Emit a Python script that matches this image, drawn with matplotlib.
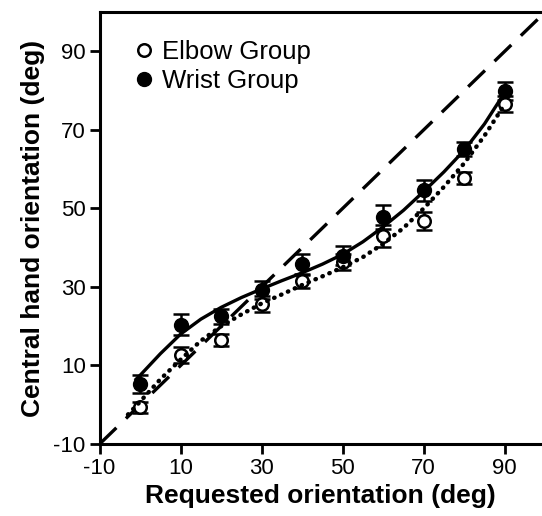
import numpy as np
import matplotlib.pyplot as plt
from matplotlib.lines import Line2D

plt.rcParams['font.family'] = ['Liberation Sans', 'DejaVu Sans']
plt.rcParams['axes.unicode_minus'] = False

# requested orientation (deg)
requested = [0, 10, 20, 30, 40, 50, 60, 70, 80, 90]

# group means and error bars (deg)
wrist_mean = [5.3, 20.4, 22.5, 29.2, 35.8, 38.0, 47.8, 54.6, 65.2, 79.9]
wrist_err = [2.2, 2.6, 2.0, 2.2, 2.6, 2.5, 3.0, 2.7, 1.8, 2.3]
elbow_mean = [-0.6, 12.7, 16.5, 25.6, 31.4, 36.3, 42.9, 46.8, 57.7, 76.5]
elbow_err = [1.4, 2.0, 1.5, 2.0, 1.7, 2.0, 2.8, 2.3, 1.5, 2.0]

# fitted curves
wrist_fit_x = [-1, 0, 5, 10, 15, 20, 25, 30, 35, 40, 45, 50, 55, 60, 65, 70, 75, 80, 85, 90]
wrist_fit_y = [6.5, 7.5, 13.0, 18.0, 21.8, 24.8, 27.3, 29.5, 31.6, 33.6, 35.8, 38.3,
               41.5, 45.3, 49.5, 54.3, 59.3, 64.8, 71.5, 79.5]
elbow_fit_x = [-3, 0, 5, 10, 15, 20, 25, 30, 35, 40, 45, 50, 55, 60, 65, 70, 75, 80, 85, 90]
elbow_fit_y = [-2.5, 0.8, 6.5, 11.5, 16.3, 20.0, 23.0, 25.8, 28.1, 30.5, 32.7, 35.0,
               37.6, 41.0, 45.0, 50.0, 55.5, 61.5, 68.5, 76.5]

identity = [-10, 100]

fig = plt.figure(figsize=(5.42, 5.16), dpi=100)
ax = fig.add_axes([0.1838, 0.1395, 0.8162, 0.8372])

ax.plot(identity, identity, color='black', lw=2.4, dashes=(7, 4), zorder=2)

ax.errorbar(requested, elbow_mean, yerr=elbow_err, fmt='o', ms=9, mfc='white',
            mec='black', mew=1.8, ecolor='black', elinewidth=1.8, capsize=6,
            capthick=1.8, zorder=3)
ax.errorbar(requested, wrist_mean, yerr=wrist_err, fmt='o', ms=10, mfc='black',
            mec='black', ecolor='black', elinewidth=1.8, capsize=6,
            capthick=1.8, zorder=3)

ax.plot(wrist_fit_x, wrist_fit_y, color='black', lw=2.4, zorder=4)
ax.plot(elbow_fit_x, elbow_fit_y, color='black', lw=3.2, linestyle=(0, (0.1, 1.6)),
        dash_capstyle='round', zorder=4)

ax.set_xlim(-10, 99.2)
ax.set_ylim(-10, 100)
ax.set_xticks([-10, 10, 30, 50, 70, 90])
ax.set_yticks([-10, 10, 30, 50, 70, 90])
ax.tick_params(direction='out', length=7, width=2, labelsize=16, pad=3)
for side in ['left', 'bottom', 'top']:
    ax.spines[side].set_linewidth(2.2)
ax.spines['right'].set_visible(False)

ax.set_xlabel('Requested orientation (deg)', fontsize=19, fontweight='bold', labelpad=4)
ax.set_ylabel('Central hand orientation (deg)', fontsize=19, fontweight='bold', labelpad=6)

handles = [
    Line2D([], [], marker='o', ls='none', ms=9, mfc='white', mec='black', mew=1.8),
    Line2D([], [], marker='o', ls='none', ms=10, mfc='black', mec='black'),
]
ax.legend(handles, ['Elbow Group', 'Wrist Group'], loc='upper left',
          bbox_to_anchor=(0.06, 0.96), frameon=False, fontsize=18.5,
          handlelength=0.6, handletextpad=0.4, labelspacing=0.2, borderaxespad=0)

fig.savefig('out.png', dpi=100)
